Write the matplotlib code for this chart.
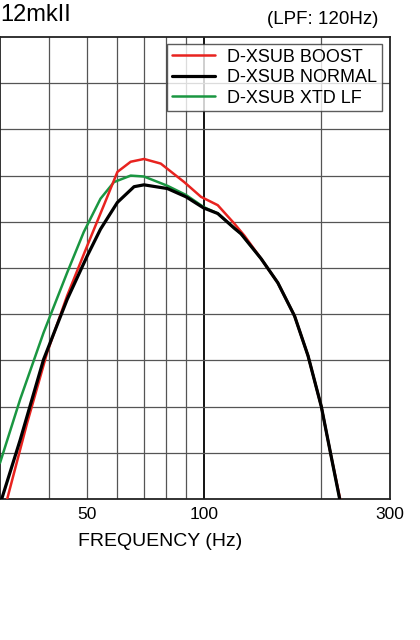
import matplotlib
matplotlib.use("Agg")
import matplotlib.pyplot as plt
from matplotlib.ticker import FixedLocator, NullLocator

plt.rcParams['font.family'] = ['Liberation Sans', 'DejaVu Sans']

normal_f = [30.3, 33.8, 38.8, 44.6, 50.2, 54.3, 60.0, 66.2, 70.2, 80.6, 90.0, 99.8, 108.5, 119.7, 124.5, 140.2, 154.7, 170.8, 184.9, 200, 212, 222.9]
normal_db = [-40, -33.6, -24.9, -18.4, -13.7, -10.8, -7.9, -6.2, -6.0, -6.4, -7.3, -8.5, -9.1, -10.7, -11.3, -14.0, -16.6, -20.2, -24.5, -30.0, -35.4, -40]

xtd_f = [30.0, 33.8, 38.8, 44.6, 49.2, 54.3, 58.8, 64.9, 70.2, 80.6, 90.0, 99.8, 108.5, 119.7, 124.5, 140.2, 154.7, 170.8, 184.9, 200, 212, 222.9]
xtd_db = [-36.1, -29.2, -22.0, -15.5, -11.1, -7.5, -5.7, -5.0, -5.1, -6.1, -7.1, -8.4, -9.1, -10.7, -11.3, -14.0, -16.6, -20.2, -24.5, -30.0, -35.4, -40]

boost_f = [31.3, 35.2, 39.6, 44.6, 50.2, 55.4, 60.0, 64.9, 70.2, 77.5, 89.0, 98.3, 108.5, 119.7, 127.0, 140.2, 154.7, 170.8, 184.9, 200, 212, 223.5]
boost_db = [-40, -31.8, -24.2, -18.0, -12.6, -8.2, -4.6, -3.5, -3.2, -3.7, -5.7, -7.3, -8.2, -10.2, -11.5, -14.0, -16.6, -20.2, -24.5, -30.0, -35.4, -40]

grid_f = [40, 50, 60, 70, 80, 90, 200]
tick_f = [50, 100, 300]
tick_labels = ["50", "100", "300"]

fig = plt.figure(figsize=(4.2, 6.4), dpi=100)
ax = fig.add_axes([0, (640-499)/640, 390/420, (499-37)/640])
ax.set_xscale('log')
ax.set_xlim(30, 300)
ax.set_ylim(-40, 10)

for f in grid_f:
    ax.axvline(f, color='#555555', lw=0.9, zorder=1)
ax.axvline(100, color='black', lw=1.3, zorder=1)
for y in range(-35, 10, 5):
    ax.axhline(y, color='#555555', lw=0.9, zorder=1)

kw = dict(solid_joinstyle='round', solid_capstyle='round')
ax.plot(xtd_f, xtd_db, color='#1a9641', lw=1.8, label='D-XSUB XTD LF', zorder=3, **kw)
ax.plot(boost_f, boost_db, color='#e8231f', lw=1.8, label='D-XSUB BOOST', zorder=3, **kw)
ax.plot(normal_f, normal_db, color='black', lw=2.3, label='D-XSUB NORMAL', zorder=4, **kw)

ax.xaxis.set_major_locator(FixedLocator(tick_f))
ax.set_xticklabels(tick_labels, fontsize=12.5)
ax.xaxis.set_minor_locator(NullLocator())
ax.tick_params(axis='x', length=0, pad=6)
ax.set_yticks([])
for s in ax.spines.values():
    s.set_color('#222222')
    s.set_linewidth(1.3)

h, l = ax.get_legend_handles_labels()
order = [1, 2, 0]
leg = ax.legend([h[i] for i in order], [l[i] for i in order], loc='upper right',
                bbox_to_anchor=(382/390, (499-44)/462), fontsize=13, frameon=True,
                fancybox=False, edgecolor='#333333', handlelength=2.4, borderpad=0.25,
                labelspacing=0.2, handletextpad=0.7, borderaxespad=0)
leg.get_frame().set_linewidth(1.0)

fig.text(160/420, 1-541/640, "FREQUENCY (Hz)", ha='center', va='center', fontsize=14)
fig.text(0, 1-15/640, "12mkII", ha='left', va='center', fontsize=17)
fig.text(378/420, 1-19/640, "(LPF: 120Hz)", ha='right', va='center', fontsize=13.5)

fig.savefig("out.png", dpi=100)
